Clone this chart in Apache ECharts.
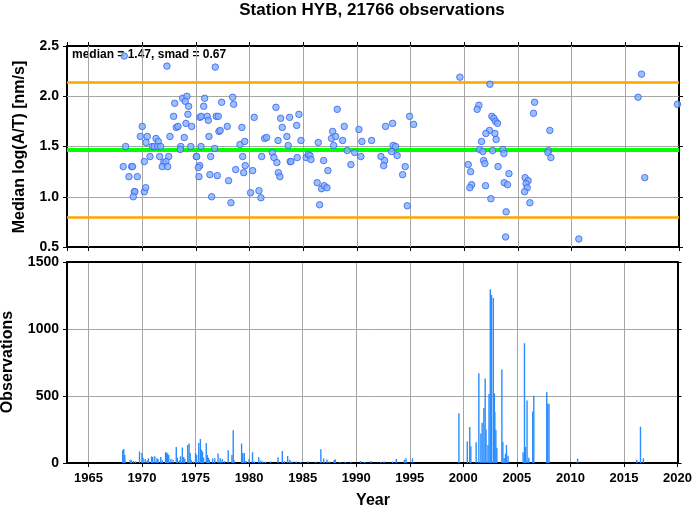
<!DOCTYPE html>
<html><head><meta charset="utf-8">
<script src="https://cdn.jsdelivr.net/npm/echarts@6/dist/echarts.min.js"></script>
<style>html,body{margin:0;padding:0;background:#fff}#c{width:695px;height:511px}</style>
</head><body><div id="c"></div>
<script>
const titleText = 'Station HYB, 21766 observations';
const yTitleTop = 'Median log(A/T) [nm/s]';
const yTitleBottom = 'Observations';
const xTitle = 'Year';
const medianValue = 1.47;
const smadValue = 0.67;
const yearMin = 1963, yearMax = 2020;
const yearTicks = [1965, 1970, 1975, 1980, 1985, 1990, 1995, 2000, 2005, 2010, 2015];
const ampTicks = [1.0, 1.5, 2.0];

// Top panel: median log(A/T) per period
const ampYears = [
 1968.33,1972.31,1968.46,1968.24,1969.02,1969.10,1968.77,1969.55,1969.27,1969.32,1969.17,1970.20,1970.33,
 1970.01,1969.83,1970.48,1970.36,1970.20,1970.73,1971.29,1971.50,1970.94,1971.13,1971.44,1971.72,1971.63,1972.47,
 1972.00,1972.22,1971.87,1972.37,1972.59,1972.93,1973.03,1973.18,1973.34,1973.59,1973.55,1973.77,1974.17,1974.01,1974.33,
 1974.26,1973.92,1974.08,1974.61,1974.52,1975.04,1975.38,
 1976.81,1975.82,1975.73,1975.50,1976.06,1976.16,1976.90,1977.09,1977.40,1978.43,1978.52,1976.22,1977.15,1977.27,1977.93,
 1975.48,1976.75,1975.08,1975.36,1975.23,1975.29,1976.38,1976.31,1977.00,1976.47,1978.05,1978.27,1978.71,1979.45,1979.60,
 1979.29,1979.11,1979.55,1979.36,1980.29,1980.10,1980.88,1981.06,1980.44,1981.13,1981.41,1981.59,1982.46,1982.90,1983.05,
 1982.65,1982.12,1982.27,1982.55,1982.68,1982.83,1983.48,1983.60,1983.73,1983.79,
 1984.60,1984.39,1984.79,1983.86,1984.44,1985.28,1985.47,1985.63,1985.72,1986.40,1986.90,1987.30,1986.30,1986.71,1986.96,
 1987.21,1986.53,1988.17,1987.74,1987.64,1988.02,1987.83,1988.67,1988.82,1989.10,1989.79,1989.44,1990.19,1990.47,1990.37,
 1991.37,1992.24,1992.58,1992.49,1992.67,1993.33,1993.38,1993.60,1993.23,1993.75,1994.50,1994.26,1994.69,1994.91,1995.28,
 1999.59,2002.39,2001.36,2001.20,2002.57,2002.76,2002.92,2003.10,2002.35,2002.01,2002.85,2002.97,2001.61,2001.43,2001.73,
 2002.64,2003.60,2003.69,2001.80,2001.92,2000.37,2000.59,2003.15,2004.16,2000.68,2000.52,2001.98,2003.72,2004.03,2002.48,
 2003.90,2003.85,2006.55,2006.45,2007.97,2007.85,2007.79,2008.07,2005.67,2005.95,2005.76,2005.86,2005.62,2006.11,2010.67,
 2016.51,2016.19,2016.81,2019.86
];
const ampValues = [
 2.40,2.30,1.50,1.30,1.30,1.30,1.20,1.20,1.05,1.05,1.00,1.05,1.09,
 1.70,1.60,1.60,1.54,1.35,1.40,1.58,1.55,1.50,1.50,1.50,1.50,1.40,1.40,
 1.34,1.35,1.30,1.30,1.60,1.80,1.93,1.69,1.70,1.50,1.47,1.98,2.00,1.95,1.90,
 1.82,1.59,1.73,1.70,1.50,1.40,1.79,
 2.29,1.98,1.90,1.80,1.80,1.76,1.80,1.80,1.94,1.99,1.92,1.60,1.65,1.66,1.70,
 1.50,1.48,1.40,1.31,1.29,1.20,1.40,1.22,1.21,1.00,1.16,0.94,1.27,1.24,1.31,
 1.69,1.52,1.55,1.40,1.26,1.04,1.06,0.99,1.79,1.40,1.58,1.59,1.89,1.78,1.69,
 1.56,1.44,1.39,1.34,1.24,1.20,1.60,1.51,1.79,1.35,
 1.82,1.71,1.56,1.35,1.39,1.39,1.42,1.41,1.37,1.54,1.36,1.26,1.14,1.08,1.11,
 1.09,0.92,1.87,1.65,1.58,1.60,1.51,1.56,1.70,1.46,1.44,1.32,1.67,1.55,1.40,
 1.56,1.40,1.36,1.31,1.70,1.73,1.51,1.50,1.45,1.41,1.30,1.22,0.91,1.80,1.72,
 2.19,2.12,1.91,1.87,1.80,1.78,1.75,1.73,1.66,1.63,1.63,1.57,1.55,1.47,1.45,
 1.46,1.47,1.43,1.36,1.33,1.32,1.25,1.30,1.23,1.12,1.09,1.11,1.14,1.12,0.98,
 0.85,0.60,1.94,1.83,1.66,1.46,1.44,1.39,1.19,1.16,1.13,1.09,1.05,0.94,0.58,
 2.22,1.99,1.19,1.92
];

// Bottom panel: observations per bin
const obsYears = [
 1968.20,1968.30,1968.40,1968.90,1969.00,1969.20,1969.40,1969.77,1970.00,1970.10,1970.30,1970.50,1970.60,1970.90,1971.00,
 1971.20,1971.40,1971.50,1971.75,1971.90,1972.20,1972.30,1972.40,1972.50,1972.70,1972.90,1973.20,1973.30,1973.50,1973.60,
 1973.77,1973.90,1974.00,1974.27,1974.40,1974.50,1974.60,1974.80,1975.00,1975.10,1975.30,1975.45,1975.55,1975.65,1975.75,
 1976.00,1976.10,1976.20,1976.30,1976.60,1976.80,1977.10,1977.30,1977.50,1977.70,1978.05,1978.40,1978.52,1978.60,1979.30,
 1979.40,1979.55,1979.70,1980.00,1980.32,1980.50,1980.90,1981.10,1981.30,1981.50,1982.00,1982.70,1983.10,1983.30,1983.60,
 1983.80,1984.00,1984.40,1984.80,1985.50,1986.20,1986.70,1986.96,1987.27,1987.50,1987.95,1988.05,1988.50,1989.00,1989.50,
 1990.40,1990.80,1991.37,1992.30,1992.60,1993.40,1993.75,1994.50,1994.65,1995.25,
 1999.59,2000.37,2000.60,2000.70,2001.20,2001.45,2001.64,2001.76,2001.92,2002.04,2002.12,2002.30,2002.40,2002.52,2002.63,
 2002.80,2002.90,2002.94,2003.04,2003.13,2003.60,2003.69,2003.81,2003.94,2004.03,2004.18,2005.58,2005.71,2005.80,2005.95,
 2006.11,2006.48,2006.58,2007.79,2007.88,2008.00,2010.67,2016.19,2016.54,2016.81
];
const obsCounts = [
 95,105,60,25,20,15,12,85,75,40,30,20,35,50,45,
 50,35,30,45,20,80,78,70,60,30,25,120,40,20,50,
 115,45,30,135,145,75,20,10,75,60,150,180,100,85,40,
 150,60,40,25,35,35,70,35,30,15,95,60,245,20,145,
 75,75,15,30,80,10,42,18,12,8,12,42,90,15,52,
 25,12,12,8,12,10,102,32,27,10,22,27,8,8,10,
 15,8,15,10,12,10,30,25,35,35,
 372,160,268,125,155,670,220,300,410,630,250,135,515,1296,1254,
 1232,520,380,248,112,698,156,37,70,134,55,80,894,120,467,
 40,385,502,529,442,442,32,25,270,35
];

const FONT = '"Liberation Sans", Arial, Helvetica, sans-serif';
const ampData = ampYears.map((y, i) => [y, ampValues[i]]);
const obsData = obsYears.map((y, i) => [y, obsCounts[i]]);

const gridColor = '#a6a6a6';
function xAxisBase(gridIndex, position, withLabels, withGrid) {
  return {
    type: 'value', gridIndex, position, min: yearMin, max: yearMax,
    minInterval: 5, maxInterval: 5,
    axisLine: { show: true, onZero: false, lineStyle: { color: '#000', width: 2 } },
    axisTick: { show: true, inside: false, length: 4, lineStyle: { color: '#000', width: 1 } },
    splitLine: { show: withGrid, lineStyle: { color: gridColor, width: 1 } },
    axisLabel: {
      show: withLabels, showMinLabel: false, margin: 9,
      fontFamily: FONT, fontWeight: 'bold', fontSize: 13, color: '#000',
      formatter: v => (v % 5 === 0 ? String(v) : '')
    }
  };
}
function yAxisBase(gridIndex, position, min, max, interval, withLabels, withGrid, fmt) {
  return {
    type: 'value', gridIndex, position, min, max, interval,
    axisLine: { show: true, onZero: false, lineStyle: { color: '#000', width: 2 } },
    axisTick: { show: true, inside: false, length: 4, lineStyle: { color: '#000', width: 1 } },
    splitLine: { show: withGrid, lineStyle: { color: gridColor, width: 1 } },
    axisLabel: {
      show: withLabels, margin: 8,
      fontFamily: FONT, fontWeight: 'bold', fontSize: 14, color: '#000',
      formatter: fmt
    }
  };
}

// grid 0 = amplitude panel (top), grid 1 = observations panel (bottom)
const xAxes = [
  xAxisBase(0, 'bottom', false, true),
  xAxisBase(1, 'bottom', true, true),
  xAxisBase(0, 'top', false, false),
  Object.assign(xAxisBase(1, 'top', false, false), { axisTick: { show: false } })
];
const yAxes = [
  yAxisBase(0, 'left', 0.5, 2.5, 0.5, true, true, v => v.toFixed(1)),
  yAxisBase(1, 'left', 0, 1500, 500, true, true, v => String(v)),
  yAxisBase(0, 'right', 0.5, 2.5, 0.5, false, false),
  yAxisBase(1, 'right', 0, 1500, 500, false, false)
];

const gridLineStyle = () => ({ color: gridColor, width: 1, type: 'solid' });
const topGridLines = yearTicks.map(y => ({ xAxis: y, lineStyle: gridLineStyle() }))
  .concat(ampTicks.map(v => ({ yAxis: v, lineStyle: gridLineStyle() })));

const chart = echarts.init(document.getElementById('c'));
chart.setOption({
  animationDuration: 1,
  animationDurationUpdate: 1,
  grid: [
    { left: 67, top: 46, width: 612, height: 201 },
    { left: 67, top: 262, width: 612, height: 201 }
  ],
  xAxis: xAxes,
  yAxis: yAxes,
  graphic: [
    {
      type: 'text', x: 372, y: 10,
      style: { text: titleText, font: 'bold 17px ' + FONT, fill: '#000', align: 'center', verticalAlign: 'middle' }
    },
    {
      type: 'text', x: 72, y: 55,
      style: {
        text: 'median = ' + medianValue.toFixed(2) + ', smad = ' + smadValue.toFixed(2),
        font: 'bold 12px ' + FONT, fill: '#000', align: 'left', verticalAlign: 'middle'
      }
    },
    {
      type: 'text', x: 20, y: 147, rotation: Math.PI / 2,
      style: { text: yTitleTop, font: 'bold 16px ' + FONT, fill: '#000', align: 'center', verticalAlign: 'middle' }
    },
    {
      type: 'text', x: 8, y: 362, rotation: Math.PI / 2,
      style: { text: yTitleBottom, font: 'bold 16px ' + FONT, fill: '#000', align: 'center', verticalAlign: 'middle' }
    },
    {
      type: 'text', x: 373, y: 501,
      style: { text: xTitle, font: 'bold 16px ' + FONT, fill: '#000', align: 'center', verticalAlign: 'middle' }
    }
  ],
  series: [
    {
      type: 'scatter', xAxisIndex: 0, yAxisIndex: 0, data: ampData, z: 8,
      symbol: 'circle', symbolSize: 6.5,
      itemStyle: { color: '#80b3fb', borderColor: '#3a5cf2', borderWidth: 1 },
      markLine: {
        silent: true, symbol: 'none', label: { show: false }, z: 5,
        data: topGridLines.concat([
          { yAxis: medianValue + smadValue, lineStyle: { color: '#ffa500', width: 2.5, type: 'solid' } },
          { yAxis: medianValue - smadValue, lineStyle: { color: '#ffa500', width: 2.5, type: 'solid' } },
          { yAxis: medianValue, lineStyle: { color: '#00ff00', width: 4, type: 'solid' } }
        ])
      }
    },
    {
      type: 'custom', xAxisIndex: 1, yAxisIndex: 1, data: obsData,
      encode: { x: 0, y: 1 },
      renderItem: function (params, api) {
        const base = api.coord([api.value(0), 0]);
        const top = api.coord([api.value(0), api.value(1)]);
        return {
          type: 'rect',
          shape: { x: base[0] - 0.7, y: top[1], width: 1.4, height: base[1] - top[1] },
          style: { fill: '#2a8dff' }
        };
      }
    }
  ]
});
</script>
</body></html>
